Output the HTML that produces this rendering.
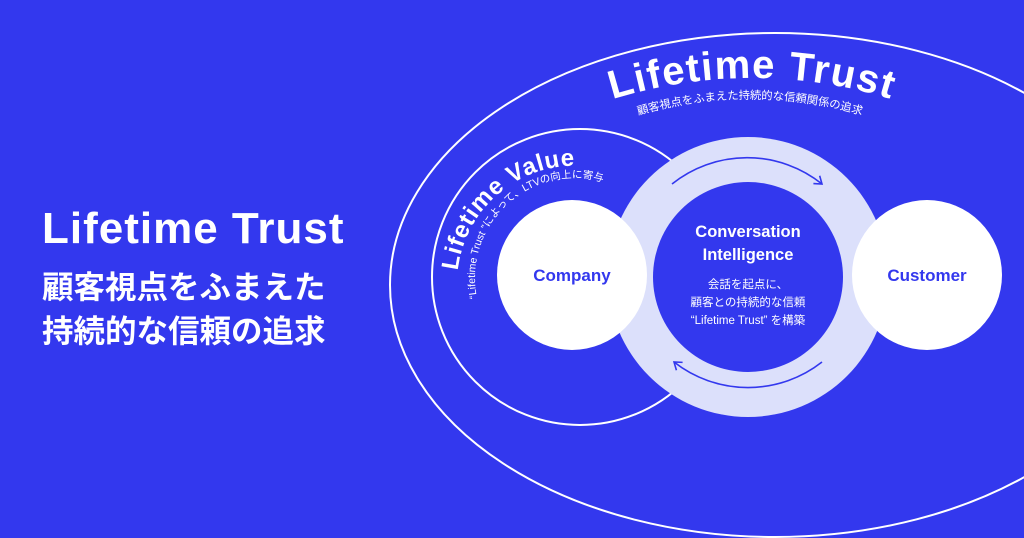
<!DOCTYPE html>
<html><head><meta charset="utf-8"><style>
html,body{margin:0;padding:0;}
body{width:1024px;height:538px;overflow:hidden;background:#3338EE;}
svg{display:block;}
.lt{font-family:"Liberation Sans","Noto Sans CJK JP",sans-serif;fill:#fff;}
</style></head><body>
<svg width="1024" height="538" viewBox="0 0 1024 538" xmlns="http://www.w3.org/2000/svg">
<defs>
<path id="pT" d="M284 546 A468 468 0 0 1 1220 546"/>
<path id="pTs" d="M354 495 A396 396 0 0 1 1146 495"/>
<path id="pV" d="M473 343 A118 118 0 1 1 693 285"/>
<path id="pVs" d="M488.4 328 A100 100 0 1 1 675 278"/>
<marker id="ah" markerWidth="12" markerHeight="12" refX="8" refY="6" orient="auto" markerUnits="userSpaceOnUse">
<path d="M1 1 L8 6 L1 11" fill="none" stroke="#3338EE" stroke-width="1.6"/>
</marker>
</defs>
<rect width="1024" height="538" fill="#3338EE"/>
<ellipse cx="775" cy="285" rx="385" ry="252" fill="none" stroke="#fff" stroke-width="2"/>
<circle cx="580" cy="277" r="148" fill="none" stroke="#fff" stroke-width="2"/>
<circle cx="748" cy="277" r="140" fill="#DCE0FB"/>
<circle cx="748" cy="277" r="95" fill="#3338EE"/>
<circle cx="572" cy="275" r="75" fill="#fff"/>
<circle cx="927" cy="275" r="75" fill="#fff"/>
<path d="M672 184 A120 120 0 0 1 822 184" fill="none" stroke="#3338EE" stroke-width="1.6" marker-end="url(#ah)"/>
<path d="M822 362 A120 120 0 0 1 674 362" fill="none" stroke="#3338EE" stroke-width="1.6" marker-end="url(#ah)"/>
<text class="lt" font-size="40" font-weight="bold" letter-spacing="1.5"><textPath href="#pT" startOffset="50%" text-anchor="middle">Lifetime Trust</textPath></text>
<text class="lt" font-size="11.3"><textPath href="#pTs" startOffset="50%" text-anchor="middle">顧客視点をふまえた持続的な信頼関係の追求</textPath></text>
<text class="lt" font-size="24" font-weight="bold" letter-spacing="0.8"><textPath href="#pV" startOffset="75">Lifetime Value</textPath></text>
<text class="lt" font-size="10.5"><textPath href="#pVs" startOffset="32">“Lifetime Trust ”によって、LTVの向上に寄与</textPath></text>
<text x="572" y="281" text-anchor="middle" font-family="Liberation Sans,sans-serif" font-weight="bold" font-size="17" fill="#3338EE">Company</text>
<text x="927" y="281" text-anchor="middle" font-family="Liberation Sans,sans-serif" font-weight="bold" font-size="17" fill="#3338EE">Customer</text>
<text x="748" y="237" text-anchor="middle" class="lt" font-weight="bold" font-size="16.5">Conversation</text>
<text x="748" y="260" text-anchor="middle" class="lt" font-weight="bold" font-size="16.5">Intelligence</text>
<text x="748" y="288" text-anchor="middle" class="lt" font-size="11.5">会話を起点に、</text>
<text x="748" y="306" text-anchor="middle" class="lt" font-size="11.5">顧客との持続的な信頼</text>
<text x="748" y="324" text-anchor="middle" class="lt" font-size="11.5">“Lifetime Trust” を構築</text>
<text x="42" y="243" class="lt" font-weight="bold" font-size="44" letter-spacing="1">Lifetime Trust</text>
<text x="42" y="298" class="lt" font-weight="bold" font-size="31.5">顧客視点をふまえた</text>
<text x="42" y="342" class="lt" font-weight="bold" font-size="31.5">持続的な信頼の追求</text>
</svg>
</body></html>
